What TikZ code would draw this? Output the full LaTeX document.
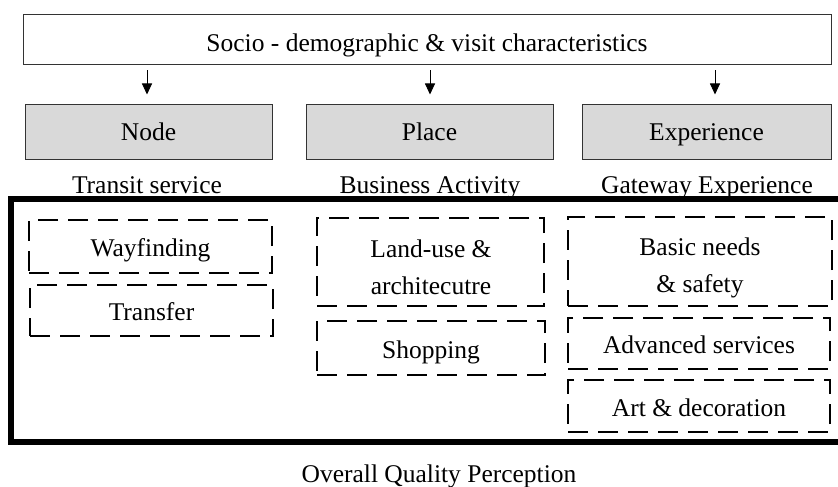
\documentclass[tikz,border=0pt]{standalone}
\usepackage{fontspec}
\setmainfont{Liberation Serif}
\usetikzlibrary{arrows.meta}
\begin{document}
\begin{tikzpicture}[x=1pt,y=-1pt,
  txt/.style={font=\fontsize{25.5}{38}\selectfont, inner sep=0pt, align=center, text height=20pt, text depth=0pt},
  thinbox/.style={txt, draw=black!80, line width=1pt, rectangle},
  graybox/.style={thinbox, fill=black!15, text height=17pt},
  dashbox/.style={txt, draw=black, line width=2.8pt, dash pattern=on 20pt off 10pt, rectangle},
  arr/.style={-{Triangle[length=11pt,width=10pt]}, line width=0.9pt},
  outer/.style={line width=5.5pt}
]
\useasboundingbox (0,0) rectangle (838,487);
\node[thinbox, minimum width=808, minimum height=50, text height=23pt] (top) at (427,40) {Socio - demographic \& visit characteristics};
\node[graybox, minimum width=247, minimum height=55] (node) at (148.5,131.5) {Node};
\node[graybox, minimum width=247, minimum height=55] (place) at (429.5,131.5) {Place};
\node[graybox, minimum width=249, minimum height=55] (exp) at (706.5,131.5) {Experience};
\coordinate (a1) at (147,0);
\coordinate (a2) at (430,0);
\coordinate (a3) at (715,0);
\draw[arr, shorten <=5pt, shorten >=9pt] (top.south -| a1) -- (node.north -| a1);
\draw[arr, shorten <=5pt, shorten >=9pt] (top.south -| a2) -- (place.north -| a2);
\draw[arr, shorten <=5pt, shorten >=9pt] (top.south -| a3) -- (exp.north -| a3);
\node[txt] (l1) at (147,183) {Transit service};
\node[txt] (l2) at (430,183) {Business Activity};
\node[txt] (l3) at (707,183) {Gateway Experience};
\draw[outer] (850,199) -- (11,199) -- (11,442) -- (850,442);
\node[dashbox, minimum width=243, minimum height=53] (way) at (150.5,246.5) {Wayfinding};
\node[dashbox, minimum width=243, minimum height=51] (trans) at (151.5,310.5) {Transfer};
\node[dashbox, minimum width=227, minimum height=88] (land) at (430.5,262) {};
\node[txt] (landa) at (431,247) {Land-use \&};
\node[txt] (landb) at (431,284) {architecutre};
\node[dashbox, minimum width=228, minimum height=54] (shop) at (431,348) {Shopping};
\node[dashbox, minimum width=264, minimum height=89] (basic) at (700,261.5) {};
\node[txt] (basica) at (700,245) {Basic needs};
\node[txt] (basicb) at (700,282) {\& safety};
\node[dashbox, minimum width=262, minimum height=51] (adv) at (699,343.5) {Advanced services};
\node[dashbox, minimum width=262, minimum height=52] (art) at (699,406) {Art \& decoration};
\node[txt] (overall) at (439,472) {Overall Quality Perception};
\end{tikzpicture}
\end{document}
